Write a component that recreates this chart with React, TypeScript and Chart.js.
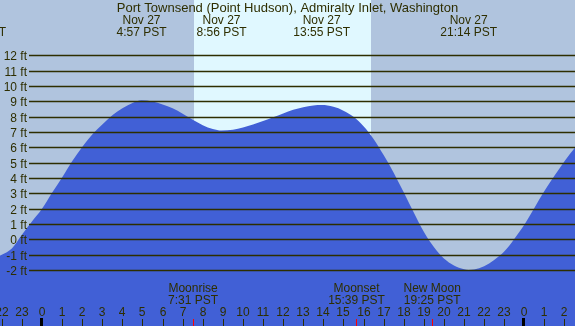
import React, { useEffect, useRef } from "react";
import { Chart, registerables } from "chart.js";

Chart.register(...registerables);

const TITLE = "Port Townsend (Point Hudson), Admiralty Inlet, Washington";

// Tide height (ft), hours relative to Nov 27 00:00
const HOURS = [
  -2.5, -2.0, -1.5, -1.0, -0.5, 0, 0.5, 1.0, 1.5, 2.0, 2.5, 3.0, 3.5, 4.0, 4.5, 4.95,
  5.5, 6.0, 6.5, 7.0, 7.5, 8.0, 8.5, 8.93, 9.5, 10.0, 10.5, 11.0, 11.5, 12.0, 12.5,
  13.0, 13.5, 13.92, 14.5, 15.0, 15.5, 16.0, 16.5, 17.0, 17.5, 18.0, 18.5, 19.0,
  19.5, 20.0, 20.5, 21.0, 21.23, 21.5, 22.0, 22.5, 23.0, 23.5, 24.0, 24.5, 25.0,
  25.5, 26.0, 26.5, 27.0,
];
const TIDE_FT = [
  -1.3, -1.0, -0.6, 0.3, 1.17, 2.0, 3.04, 4.04, 5.1, 6.03, 6.84, 7.5, 8.1, 8.55, 8.9, 9.08,
  9.0, 8.8, 8.55, 8.2, 7.8, 7.45, 7.2, 7.1, 7.15, 7.3, 7.5, 7.72, 7.97, 8.22, 8.45,
  8.62, 8.73, 8.76, 8.65, 8.4, 8.0, 7.38, 6.55, 5.5, 4.35, 3.07, 1.75, 0.5,
  -0.5, -1.25, -1.7, -1.95, -2.0, -1.97, -1.75, -1.35, -0.8, 0.03, 0.95, 2.05, 3.15,
  4.15, 5.1, 5.95, 6.75,
];

// Tide extremes shown at the top
const EVENT_HOURS = [-3.2, 4.95, 8.933, 13.917, 21.233];
const EVENT_DATES = ["Nov 26", "Nov 27", "Nov 27", "Nov 27", "Nov 27"];
const EVENT_TIMES = ["20:48 PST", "4:57 PST", "8:56 PST", "13:55 PST", "21:14 PST"];

// Moon events shown at the bottom
const MOON_HOURS = [7.517, 15.65, 19.417];
const MOON_NAMES = ["Moonrise", "Moonset", "New Moon"];
const MOON_TIMES = ["7:31 PST", "15:39 PST", "19:25 PST"];

// Daylight (sunrise, sunset)
const SUN_HOURS = [7.56, 16.37];

// Axis ticks
const Y_TICKS = [-2, -1, 0, 1, 2, 3, 4, 5, 6, 7, 8, 9, 10, 11, 12];
const HOUR_TICKS = [-2, -1, 0, 1, 2, 3, 4, 5, 6, 7, 8, 9, 10, 11, 12, 13, 14, 15, 16, 17, 18, 19, 20, 21, 22, 23, 24, 25, 26];
const HOUR_LABELS = ["22", "23", "0", "1", "2", "3", "4", "5", "6", "7", "8", "9", "10", "11", "12", "13", "14", "15", "16", "17", "18", "19", "20", "21", "22", "23", "0", "1", "2"];

const X_MIN = -2.09;
const X_MAX = 26.523;
const Y_MIN = -5.655;
const Y_MAX = 15.62;

const NIGHT = "#b0c4de";
const DAY = "#e0f8ff";
const WATER = "#4160d6";
const INK = "#2e2e00";
const FONT = '12px "Liberation Sans", Arial, sans-serif';
const TITLE_FONT = '13px "Liberation Sans", Arial, sans-serif';

const overlayPlugin = {
  id: "tideOverlay",
  beforeDraw(chart: any) {
    const { ctx, width, height, scales } = chart;
    const x = scales.x;
    ctx.save();
    ctx.fillStyle = NIGHT;
    ctx.fillRect(0, 0, width, height);
    const x0 = x.getPixelForValue(SUN_HOURS[0]);
    const x1 = x.getPixelForValue(SUN_HOURS[1]);
    ctx.fillStyle = DAY;
    ctx.fillRect(Math.round(x0), 0, Math.round(x1) - Math.round(x0), height);
    ctx.restore();
  },
  afterDatasetsDraw(chart: any) {
    const { ctx, width, height, scales } = chart;
    const x = scales.x;
    const y = scales.y;
    ctx.save();
    // grid lines and labels
    ctx.strokeStyle = INK;
    ctx.lineWidth = 1.3;
    ctx.font = FONT;
    ctx.fillStyle = INK;
    ctx.textAlign = "right";
    ctx.textBaseline = "middle";
    Y_TICKS.forEach((v) => {
      const py = Math.round(y.getPixelForValue(v)) + 0.5;
      ctx.beginPath();
      ctx.moveTo(29, py);
      ctx.lineTo(width, py);
      ctx.stroke();
      ctx.fillText(v + " ft", 27, py + 1);
    });
    // title and tide events
    ctx.textAlign = "center";
    ctx.textBaseline = "alphabetic";
    ctx.font = TITLE_FONT;
    ctx.fillText(TITLE, width / 2, 12);
    ctx.font = FONT;
    EVENT_HOURS.forEach((h, i) => {
      const px = x.getPixelForValue(h);
      ctx.fillText(EVENT_DATES[i], px, 24);
      ctx.fillText(EVENT_TIMES[i], px, 36);
    });
    // moon events
    MOON_HOURS.forEach((h, i) => {
      const px = x.getPixelForValue(h);
      ctx.fillStyle = INK;
      ctx.fillText(MOON_NAMES[i], px, 292);
      ctx.fillText(MOON_TIMES[i], px, 304);
      ctx.fillStyle = "#ff0000";
      ctx.fillRect(Math.round(px), 319, 1, height - 319);
    });
    // hour ticks
    HOUR_TICKS.forEach((h, i) => {
      const px = Math.round(x.getPixelForValue(h));
      ctx.fillStyle = INK;
      ctx.fillText(HOUR_LABELS[i], px, 316);
      if (HOUR_LABELS[i] === "0") {
        ctx.fillStyle = "#000000";
        ctx.fillRect(px - 2, 318, 3, height - 318);
      } else {
        ctx.fillRect(px, 319, 1, height - 319);
      }
    });
    ctx.restore();
  },
};

export default function App() {
  const ref = useRef<HTMLCanvasElement | null>(null);
  useEffect(() => {
    if (!ref.current) return;
    const chart = new Chart(ref.current, {
      type: "line",
      data: {
        datasets: [
          {
            data: HOURS.map((h, i) => ({ x: h, y: TIDE_FT[i] })),
            fill: "start",
            backgroundColor: WATER,
            borderColor: WATER,
            borderWidth: 0,
            pointRadius: 0,
            cubicInterpolationMode: "monotone",
          },
        ],
      },
      options: {
        animation: false,
        responsive: false,
        maintainAspectRatio: false,
        devicePixelRatio: 1,
        layout: { padding: 0 },
        plugins: { legend: { display: false }, tooltip: { enabled: false }, title: { display: false } },
        scales: {
          x: { type: "linear", min: X_MIN, max: X_MAX, display: false },
          y: { type: "linear", min: Y_MIN, max: Y_MAX, display: false },
        },
      },
      plugins: [overlayPlugin],
    } as any);
    return () => chart.destroy();
  }, []);
  return (
    <div style={{ position: "fixed", left: 0, top: 0, width: 575, height: 326 }}>
      <canvas ref={ref} width={575} height={326} style={{ display: "block" }} />
    </div>
  );
}
